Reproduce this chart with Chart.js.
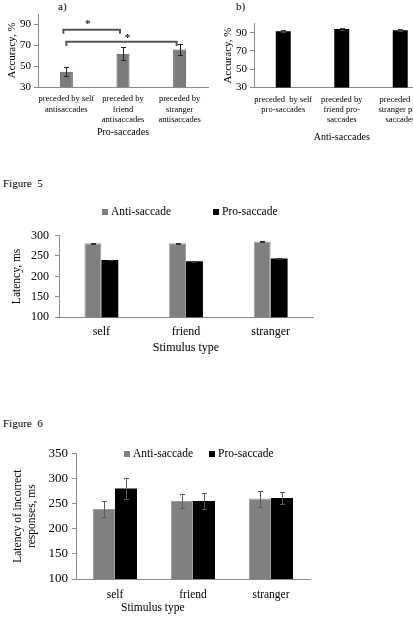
<!DOCTYPE html>
<html lang="en">
<head>
<meta charset="UTF-8">
<title>Saccade figures</title>
<script src="https://cdn.jsdelivr.net/npm/chart.js"></script>
<style>
  body { margin: 0; background: #fff; font-family: 'Liberation Serif', 'Times New Roman', serif; }
  #page { position: relative; width: 413px; height: 624px; overflow: hidden; background: #fff; }
  .box { position: absolute; }
  .box canvas { display: block; }
  .txt { position: absolute; font-size: 11px; line-height: 1; color: #000; white-space: nowrap; }
</style>
</head>
<body>
<div id="page">
  <div class="txt" style="left:58px; top:1px;">a)</div>
  <div class="txt" style="left:236px; top:1px;">b)</div>
  <div class="box" style="left:0; top:0;"><canvas id="chartA" width="220" height="140"></canvas></div>
  <div class="box" style="left:220px; top:0;"><canvas id="chartB" width="220" height="145"></canvas></div>

  <div class="txt" style="left:3px; top:178px;">Figure&nbsp; 5</div>
  <div class="box" style="left:0; top:195px;"><canvas id="chartLat" width="413" height="165"></canvas></div>

  <div class="txt" style="left:3px; top:418px;">Figure&nbsp; 6</div>
  <div class="box" style="left:0; top:440px;"><canvas id="chartErr" width="413" height="184"></canvas></div>
  <div class="txt" style="left:121px; top:602px; font-size:11.5px;">Stimulus type</div>
</div>

<script>
    Chart.defaults.font.family = "'Liberation Serif', 'Times New Roman', serif";
    Chart.defaults.color = '#000';
    Chart.defaults.animation = false;

    // panel a: pro-saccade accuracy
    const proLabels = [['preceded by self', 'antisaccades'], ['preceded by', 'friend', 'antisaccades'], ['preceded by', 'stranger', 'antisaccades']];
    const proAccuracy = [44.7, 62, 65.9];
    const proAccuracyErr = [4, 6.4, 5.5];

    // panel b: anti-saccade accuracy
    const antiLabels = [['preceded  by self', 'pro-saccades'], ['preceded by', 'friend pro-', 'saccades'], ['preceded by', 'stranger pro-', 'saccades']];
    const antiAccuracy = [91.5, 94, 92.6];
    const antiAccuracyErr = [1, 1, 1.2];
    const accuracyTicks = [30, 50, 70, 90];

    // figure 5: latency
    const stimulusTypes = ['self', 'friend', 'stranger'];
    const latencyAnti = [281, 281, 285.5];
    const latencyAntiErr = [1.5, 1.5, 1.5];
    const latencyPro = [240, 237, 243.5];
    const latencyProErr = [1, 1, 1];

    // figure 6: latency of incorrect responses
    const incorrectAnti = [239, 255, 260];
    const incorrectAntiErr = [16, 14, 16];
    const incorrectPro = [280, 255, 261];
    const incorrectProErr = [20, 16, 12.5];

    const axisGray = '#8c8c8c';

    function accuracyTickSet(scale) {
        scale.ticks = accuracyTicks.map(v => ({ value: v }));
    }

    const errorBars = {
        id: 'errorBars',
        afterDatasetsDraw(chart, args, opts) {
            const ctx = chart.ctx, y = chart.scales.y;
            ctx.save();
            ctx.strokeStyle = opts.color || '#000';
            ctx.lineWidth = 1;
            chart.data.datasets.forEach((ds, i) => {
                if (!ds.errors) return;
                chart.getDatasetMeta(i).data.forEach((bar, j) => {
                    const hi = Math.round(y.getPixelForValue(ds.data[j] + ds.errors[j])) + 0.5;
                    const lo = Math.round(y.getPixelForValue(ds.data[j] - ds.errors[j])) + 0.5;
                    const x = Math.round(bar.x) + 0.5, c = opts.cap || 2;
                    ctx.beginPath();
                    ctx.moveTo(x, hi); ctx.lineTo(x, lo);
                    ctx.moveTo(x - c, hi); ctx.lineTo(x + c, hi);
                    ctx.moveTo(x - c, lo); ctx.lineTo(x + c, lo);
                    ctx.stroke();
                });
            });
            ctx.restore();
        }
    };

    const sigBrackets = {
        id: 'sigBrackets',
        afterDatasetsDraw(chart, args, opts) {
            const ctx = chart.ctx, y = chart.scales.y, bars = chart.getDatasetMeta(0).data;
            ctx.save();
            ctx.strokeStyle = '#555';
            ctx.lineWidth = 2;
            ctx.fillStyle = '#222';
            ctx.font = "bold 11px 'Liberation Serif'";
            ctx.textAlign = 'center';
            ctx.textBaseline = 'middle';
            opts.items.forEach(b => {
                const x1 = bars[b.from].x + b.dx1, x2 = bars[b.to].x + b.dx2;
                const top = y.getPixelForValue(b.level), tip = y.getPixelForValue(b.level - 4);
                ctx.beginPath();
                ctx.moveTo(x1, tip); ctx.lineTo(x1, top); ctx.lineTo(x2, top); ctx.lineTo(x2, tip);
                ctx.stroke();
                ctx.fillText('*', (x1 + x2) / 2 + b.star, y.getPixelForValue(b.starLevel));
            });
            ctx.restore();
        }
    };

    const boxLegend = {
        id: 'boxLegend',
        afterDraw(chart, args, opts) {
            const ctx = chart.ctx;
            ctx.save();
            ctx.font = opts.font;
            ctx.textBaseline = 'middle';
            ctx.textAlign = 'left';
            let x = opts.x;
            chart.data.datasets.forEach(ds => {
                ctx.fillStyle = ds.backgroundColor;
                ctx.fillRect(x, opts.y - 3, 6, 6);
                ctx.fillStyle = '#000';
                ctx.fillText(ds.label, x + 9, opts.y);
                x += 9 + ctx.measureText(ds.label).width + opts.gap;
            });
            ctx.restore();
        }
    };

    function yScale(min, max, step, width, title, titleSize, titlePad, tickSize, tickPad) {
        return {
            min: min, max: max,
            ticks: { stepSize: step, padding: tickPad, font: { size: tickSize } },
            grid: { display: true, drawOnChartArea: false, tickLength: 4, color: axisGray },
            border: { color: axisGray },
            title: { display: true, text: title, font: { size: titleSize }, padding: { top: titlePad, bottom: 0 } },
            afterFit: s => { s.width = width; }
        };
    }

    function xScale(height, tickSize, tickPad, title, titleSize, titlePad) {
        return {
            grid: { display: false, drawTicks: false },
            border: { color: axisGray },
            ticks: { padding: tickPad, font: { size: tickSize, lineHeight: 1.2 }, maxRotation: 0, minRotation: 0, autoSkip: false },
            title: { display: !!title, text: title || '', font: { size: titleSize }, padding: { top: 0, bottom: titlePad } },
            afterFit: s => { s.height = height; }
        };
    }

    // a)
    const yA = yScale(30, 100, 20, 38, 'Accuracy, %', 11, 6, 11, 3);
    yA.afterBuildTicks = accuracyTickSet;
    new Chart(document.getElementById('chartA'), {
        type: 'bar',
        data: {
            labels: proLabels,
            datasets: [{ data: proAccuracy, errors: proAccuracyErr, backgroundColor: '#7b7b7b', borderColor: '#555', borderWidth: 1, barPercentage: 0.23, categoryPercentage: 1 }]
        },
        options: {
            responsive: false,
            layout: { padding: { top: 14, right: 12, bottom: 0, left: 0 } },
            plugins: {
                legend: { display: false }, tooltip: { enabled: false },
                errorBars: { color: '#222', cap: 2.5 },
                sigBrackets: { items: [
                    { from: 0, to: 1, dx1: -3, dx2: -3, level: 85, starLevel: 90.5, star: -4 },
                    { from: 0, to: 2, dx1: 0, dx2: -3, level: 73.3, starLevel: 76.5, star: 6 }
                ] }
            },
            scales: { x: xScale(53, 8.5, 7, 'Pro-saccades', 10, 2), y: yA }
        },
        plugins: [errorBars, sigBrackets]
    });

    // b)
    const yB = yScale(30, 100, 20, 34, 'Accuracy, %', 11, 1.4, 11, 3);
    yB.afterBuildTicks = accuracyTickSet;
    new Chart(document.getElementById('chartB'), {
        type: 'bar',
        data: {
            labels: antiLabels,
            datasets: [{ data: antiAccuracy, errors: antiAccuracyErr, backgroundColor: '#000', barPercentage: 0.256, categoryPercentage: 1 }]
        },
        options: {
            responsive: false,
            layout: { padding: { top: 23.6, right: 10.5, bottom: 0, left: 0 } },
            plugins: { legend: { display: false }, tooltip: { enabled: false }, errorBars: { color: '#444', cap: 2.5 } },
            scales: { x: xScale(57.5, 8.5, 7, 'Anti-saccades', 10, 2), y: yB }
        },
        plugins: [errorBars]
    });

    // Figure 5
    new Chart(document.getElementById('chartLat'), {
        type: 'bar',
        data: {
            labels: stimulusTypes,
            datasets: [
                { label: 'Anti-saccade', data: latencyAnti, errors: latencyAntiErr, backgroundColor: '#808080', borderColor: '#a0a0a0', borderWidth: 1, barPercentage: 1, categoryPercentage: 0.4 },
                { label: 'Pro-saccade', data: latencyPro, errors: latencyProErr, backgroundColor: '#000', barPercentage: 1, categoryPercentage: 0.4 }
            ]
        },
        options: {
            responsive: false,
            layout: { padding: { top: 40.5, right: 100, bottom: 0, left: 0 } },
            plugins: {
                legend: { display: false }, tooltip: { enabled: false },
                errorBars: { color: '#333', cap: 2.5 },
                boxLegend: { x: 102, y: 17, gap: 42, font: "11.5px 'Liberation Serif'" }
            },
            scales: { x: xScale(42.7, 12, 7.5, 'Stimulus type', 12, 4.8), y: yScale(100, 300, 50, 59, 'Latency, ms', 11.5, 10, 12, 6) }
        },
        plugins: [errorBars, boxLegend]
    });

    // Figure 6
    new Chart(document.getElementById('chartErr'), {
        type: 'bar',
        data: {
            labels: stimulusTypes,
            datasets: [
                { label: 'Anti-saccade', data: incorrectAnti, errors: incorrectAntiErr, backgroundColor: '#808080', borderColor: '#a0a0a0', borderWidth: 1, barPercentage: 1, categoryPercentage: 0.564 },
                { label: 'Pro-saccade', data: incorrectPro, errors: incorrectProErr, backgroundColor: '#000', barPercentage: 1, categoryPercentage: 0.564 }
            ]
        },
        options: {
            responsive: false,
            layout: { padding: { top: 13.3, right: 103, bottom: 0, left: 0 } },
            plugins: {
                legend: { display: false }, tooltip: { enabled: false },
                errorBars: { color: '#5c5c5c', cap: 2.5 },
                boxLegend: { x: 124, y: 14, gap: 16, font: "11.5px 'Liberation Serif'" }
            },
            scales: {
                x: xScale(45, 11.5, 9),
                y: yScale(100, 350, 50, 76, ['Latency of incorrect', 'responses, ms'], 11.5, 11, 13, 4)
            }
        },
        plugins: [errorBars, boxLegend]
    });
</script>
</body>
</html>
